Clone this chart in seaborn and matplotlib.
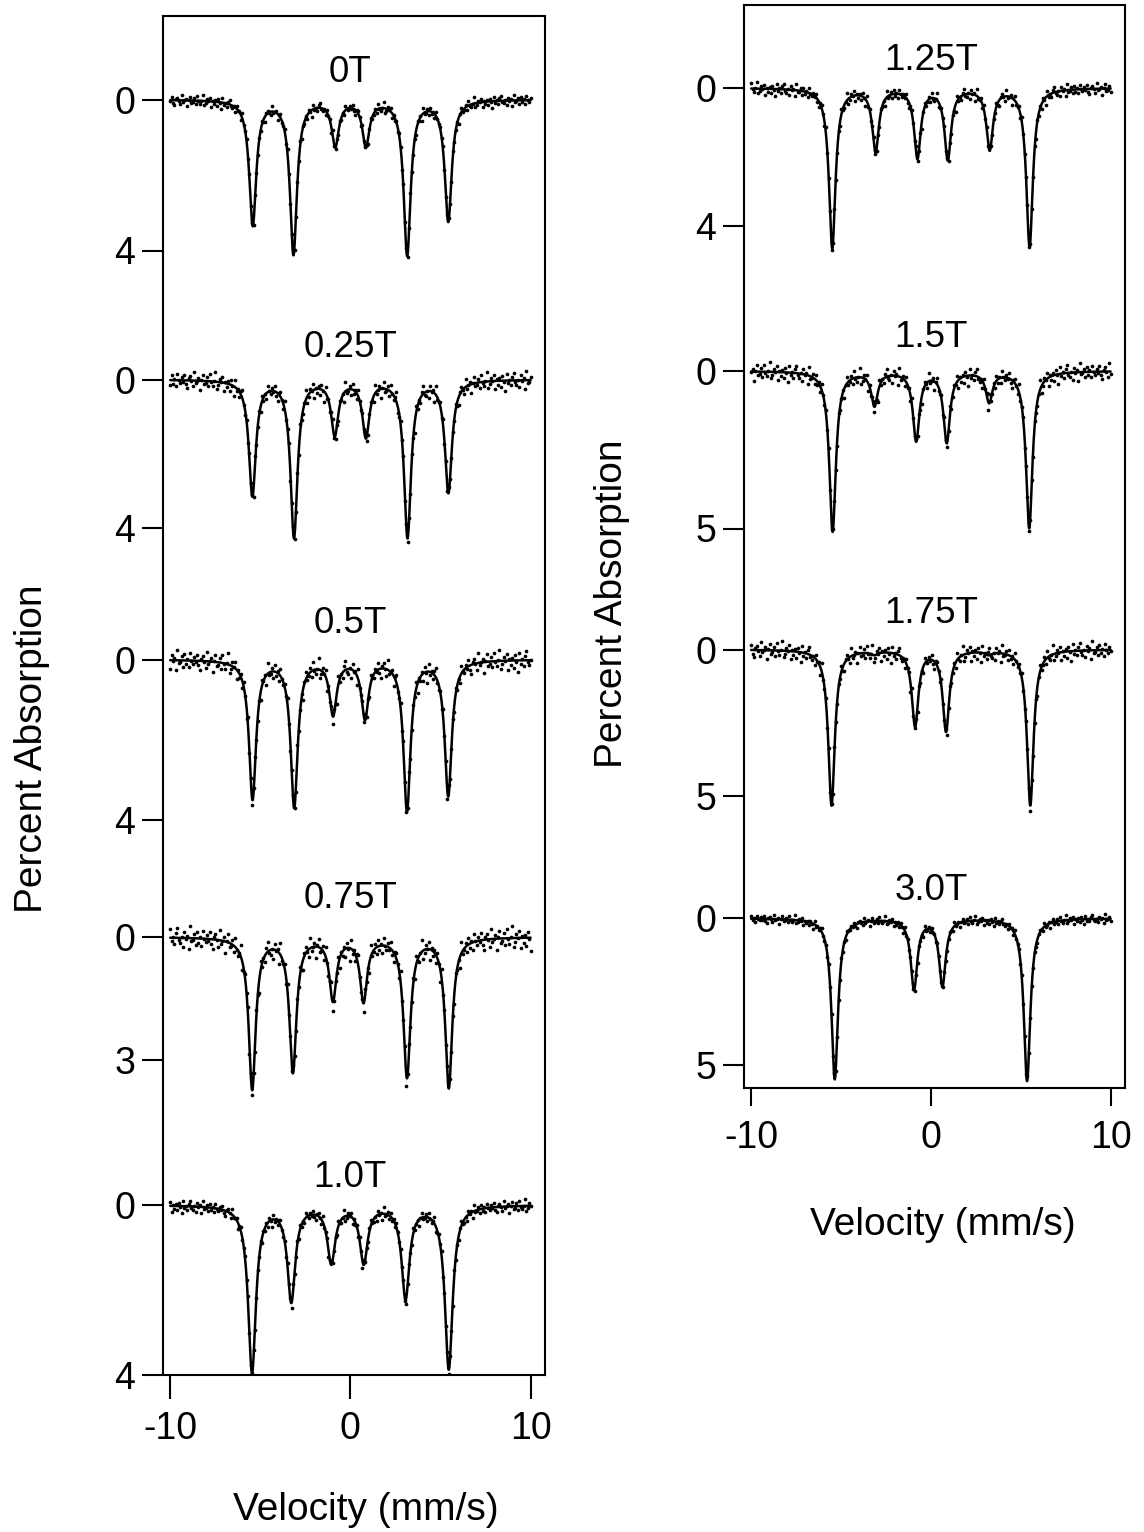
import numpy as np
import pandas as pd
import matplotlib
matplotlib.use("Agg")
import matplotlib.pyplot as plt
import seaborn as sns

# ---------------- data ----------------
fields = ["0T", "0.25T", "0.5T", "0.75T", "1.0T", "1.25T", "1.5T", "1.75T", "3.0T"]

# line positions (mm/s) and depths (percent absorption) of the fitted curve
vel_0T = [-5.42, -3.16, -0.84, 0.86, 3.15, 5.43]
dep_0T = [3.36, 4.13, 1.28, 1.28, 4.15, 3.25]
vel_025T = [-5.44, -3.13, -0.87, 0.86, 3.17, 5.44]
dep_025T = [3.17, 4.30, 1.55, 1.60, 4.30, 3.08]
vel_05T = [-5.43, -3.12, -0.96, 0.81, 3.14, 5.43]
dep_05T = [3.52, 3.72, 1.43, 1.52, 3.81, 3.43]
vel_075T = [-5.45, -3.19, -0.97, 0.73, 3.14, 5.46]
dep_075T = [3.74, 3.33, 1.59, 1.62, 3.45, 3.70]
vel_10T = [-5.46, -3.28, -1.06, 0.74, 3.06, 5.46]
dep_10T = [3.96, 2.31, 1.41, 1.41, 2.24, 3.88]
vel_125T = [-5.49, -3.08, -0.75, 0.94, 3.27, 5.49]
dep_125T = [4.64, 1.87, 2.06, 2.10, 1.82, 4.60]
vel_15T = [-5.47, -3.14, -0.82, 0.88, 3.24, 5.47]
dep_15T = [5.11, 1.14, 2.25, 2.30, 1.03, 5.00]
vel_175T = [-5.53, -3.15, -0.88, 0.84, 3.20, 5.53]
dep_175T = [5.35, 0.20, 2.66, 2.83, 0.20, 5.35]
vel_30T = [-5.35, -0.94, 0.64, 5.35]
dep_30T = [5.50, 2.46, 2.35, 5.56]

# line width (FWHM, mm/s) and scatter of the data points (percent)
fwhm = [0.47, 0.47, 0.47, 0.47, 0.52, 0.44, 0.44, 0.44, 0.44]
scatter = [0.08, 0.13, 0.14, 0.15, 0.08, 0.10, 0.15, 0.16, 0.08]

# hand-typed residual pattern for the data points (in units of the scatter)
resid = [0.3, -1.1, 0.8, 1.6, -0.4, -0.9, 0.1, 1.2, -1.7, 0.5, 0.0, -0.6, 1.9, -0.2, -1.3, 0.7,
         0.4, -0.8, 1.1, -1.5, 0.2, 0.9, -0.1, -2.0, 1.4, 0.6, -0.7, 0.0, -1.2, 1.7, -0.3, 0.8,
         -0.5, 1.3, -0.9, 0.2, 2.1, -1.4, 0.6, -0.2, 1.0, -0.8, -1.6, 0.4, 0.9, -0.1, 1.5, -1.0,
         0.1, -0.4, 1.8, -1.9, 0.5, 0.3, -0.7, 1.1, -1.1, 0.7, -0.3, 1.2, -1.3, 0.0, 0.6, -0.6]

tick_values = [[0, 4], [0, 4], [0, 4], [0, 3], [0, 4], [0, 4], [0, 5], [0, 5], [0, 5]]
x_ticks = [-10, 0, 10]
x_ticklabels = ["-10", "0", "10"]

velocities = [vel_0T, vel_025T, vel_05T, vel_075T, vel_10T, vel_125T, vel_15T, vel_175T, vel_30T]
depths = [dep_0T, dep_025T, dep_05T, dep_075T, dep_10T, dep_125T, dep_15T, dep_175T, dep_30T]

# ---------------- layout (pixel rows of the stacked spectra) ----------------
panel = [0, 0, 0, 0, 0, 1, 1, 1, 1]
baseline_row = [99.5, 379.5, 659.5, 937.0, 1205.0, 88.0, 371.0, 649.5, 918.3]
row_per_pct = [37.75, 37.0, 40.0, 41.0, 42.5, 34.6, 31.5, 29.2, 29.3]
label_row = [81.7, 356.7, 633.3, 908.3, 1186.7, 70.0, 346.7, 623.3, 900.0]

W, H = 1144, 1532
sns.set_theme(style="ticks")
plt.rcParams["font.family"] = ["Liberation Sans", "DejaVu Sans"]
plt.rcParams["axes.unicode_minus"] = False
for key in ["text.color", "axes.labelcolor", "xtick.color", "ytick.color", "axes.edgecolor"]:
    plt.rcParams[key] = "black"

fig = plt.figure(figsize=(W / 100, H / 100), dpi=100)
fig.patch.set_facecolor("white")


def rect(l, r, t, b):
    return [l / W, 1 - b / H, (r - l) / W, (b - t) / H]


ax_l = fig.add_axes(rect(163, 545, 16, 1375))
ax_r = fig.add_axes(rect(744, 1125, 5, 1088))
axes = [ax_l, ax_r]
ylims = [(1375, 16), (1088, 5)]


def lorentz_sum(v, centers, deps, gamma):
    c = np.asarray(centers, float)
    d = np.asarray(deps, float)
    M = 1.0 / (1.0 + (2 * (c[:, None] - c[None, :]) / gamma) ** 2)
    amp = np.linalg.solve(M, d)
    return (amp[None, :] / (1.0 + (2 * (v[:, None] - c[None, :]) / gamma) ** 2)).sum(axis=1)


v_fine = np.linspace(-10, 10, 1201)
v_chan = np.linspace(-10, 10, 256)

yt_pos = [[], []]
yt_lab = [[], []]
for k, name in enumerate(fields):
    ax = axes[panel[k]]
    curve = lorentz_sum(v_fine, velocities[k], depths[k], fwhm[k])
    pts = lorentz_sum(v_chan, velocities[k], depths[k], fwhm[k])
    noise = np.resize(np.roll(np.array(resid), 9 * k), v_chan.size) * scatter[k]
    pts = pts + noise
    df_line = pd.DataFrame({"v": v_fine, "y": baseline_row[k] + row_per_pct[k] * curve})
    df_pts = pd.DataFrame({"v": v_chan, "y": baseline_row[k] + row_per_pct[k] * pts})
    sns.lineplot(data=df_line, x="v", y="y", ax=ax, color="black", lw=1.8,
                 estimator=None, sort=False)
    sns.scatterplot(data=df_pts, x="v", y="y", ax=ax, color="black", s=7,
                    linewidth=0, zorder=3)
    ax.text(0, label_row[k], name, ha="center", va="baseline", fontsize=26.5, color="black")
    for t in tick_values[k]:
        yt_pos[panel[k]].append(baseline_row[k] + row_per_pct[k] * t)
        yt_lab[panel[k]].append(str(t))

for i, ax in enumerate(axes):
    ax.set_xlim(-10.4, 10.8)
    ax.set_ylim(*ylims[i])
    ax.set_xticks(x_ticks)
    ax.set_xticklabels(x_ticklabels)
    ax.set_yticks(yt_pos[i])
    ax.set_yticklabels(yt_lab[i])
    ax.set_xlabel("")
    ax.set_ylabel("")
    for s in ax.spines.values():
        s.set_visible(True)
        s.set_linewidth(1.5)
        s.set_color("black")
    ax.tick_params(axis="y", length=15, width=1.5, pad=5, labelsize=27,
                   color="black", labelcolor="black")
    ax.tick_params(axis="x", length=17 if i == 0 else 13, width=1.5,
                   pad=9 if i == 0 else 10,
                   labelsize=27, color="black", labelcolor="black")
    ax.set_facecolor("white")

fig.text(366 / W, 1 - 1510 / H, "Velocity (mm/s)", ha="center", va="center",
         fontsize=28, color="black")
fig.text(943 / W, 1 - 1225 / H, "Velocity (mm/s)", ha="center", va="center",
         fontsize=28, color="black")
fig.text(32 / W, 1 - 749 / H, "Percent Absorption", ha="center", va="center",
         rotation=90, fontsize=28, color="black")
fig.text(612 / W, 1 - 604 / H, "Percent Absorption", ha="center", va="center",
         rotation=90, fontsize=28, color="black")

fig.savefig("out.png", dpi=100, facecolor="white")
